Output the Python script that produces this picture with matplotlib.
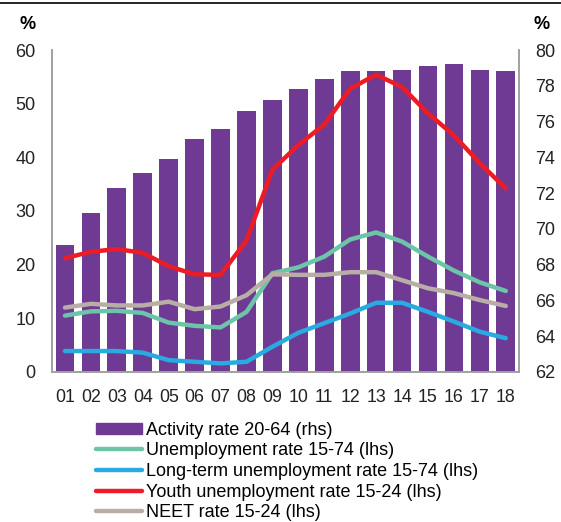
import matplotlib.pyplot as plt
from matplotlib.lines import Line2D

plt.rcParams["font.family"] = ["Liberation Sans", "DejaVu Sans"]

years = ["01", "02", "03", "04", "05", "06", "07", "08", "09",
         "10", "11", "12", "13", "14", "15", "16", "17", "18"]
activity = [69.1, 70.9, 72.3, 73.1, 73.9, 75.0, 75.6, 76.6, 77.2,
            77.8, 78.4, 78.8, 78.8, 78.9, 79.1, 79.2, 78.9, 78.8]
unemployment = [10.5, 11.3, 11.4, 11.0, 9.2, 8.6, 8.3, 11.2, 18.4,
                19.5, 21.5, 24.7, 26.0, 24.3, 21.5, 18.9, 16.7, 15.1]
long_term = [3.9, 3.9, 3.9, 3.6, 2.2, 1.9, 1.6, 1.9, 4.7,
             7.3, 9.1, 10.9, 12.9, 12.9, 11.2, 9.4, 7.5, 6.3]
youth = [21.2, 22.4, 22.9, 22.2, 19.7, 18.2, 18.1, 24.5, 37.7,
         42.3, 46.1, 52.8, 55.4, 53.1, 48.2, 44.1, 38.9, 34.2]
neet = [12.0, 12.7, 12.4, 12.4, 13.1, 11.7, 12.2, 14.3, 18.2,
        18.1, 18.1, 18.6, 18.6, 17.1, 15.6, 14.7, 13.4, 12.3]

purple = "#6E3A93"
green = "#6CC5A8"
blue = "#29ABE2"
red = "#ED1C24"
grey = "#B9AEA5"
axis_grey = "#A0A0A0"

fig = plt.figure(figsize=(5.61, 5.22), dpi=100)
ax = fig.add_axes([0.0927, 0.2874, 0.832, 0.6168])
ax2 = ax.twinx()

x = range(len(years))

# bars on the right axis, lines on the left axis drawn on top
ax2.bar(x, activity, width=0.72, color=purple, zorder=1)
ax2.set_ylim(62, 80)
ax2.set_yticks(range(62, 81, 2))

ax.set_zorder(ax2.get_zorder() + 1)
ax.patch.set_visible(False)

lw = 3.2
ax.plot(x, unemployment, color=green, lw=lw, solid_capstyle="round", solid_joinstyle="round")
ax.plot(x, long_term, color=blue, lw=lw, solid_capstyle="round", solid_joinstyle="round")
ax.plot(x, youth, color=red, lw=lw, solid_capstyle="round", solid_joinstyle="round")
ax.plot(x, neet, color=grey, lw=lw, solid_capstyle="round", solid_joinstyle="round")

ax.set_ylim(0, 60)
ax.set_yticks(range(0, 61, 10))
ax.set_xlim(-0.5, len(years) - 0.5)
ax.set_xticks(list(x))
ax.set_xticklabels(years)

for a in (ax, ax2):
    a.spines["top"].set_visible(False)
    for s in ("left", "right", "bottom"):
        a.spines[s].set_color(axis_grey)
        a.spines[s].set_linewidth(1.2)
    a.tick_params(length=0, labelsize=13, colors="#222222")
ax.tick_params(axis="y", pad=12)
ax2.tick_params(axis="y", pad=12)
ax.tick_params(axis="x", pad=12, labelsize=12.8)

fig.text(0.05, 0.953, "%", fontsize=13, fontweight="bold", ha="center", va="center")
fig.text(0.966, 0.953, "%", fontsize=13, fontweight="bold", ha="center", va="center")
fig.add_artist(Line2D([0, 1], [0.994, 0.994], color="black", lw=1.2))

handles = [
    plt.Rectangle((0, 0), 1, 1, color=purple),
    Line2D([], [], color=green, lw=lw, solid_capstyle="round"),
    Line2D([], [], color=blue, lw=lw, solid_capstyle="round"),
    Line2D([], [], color=red, lw=lw, solid_capstyle="round"),
    Line2D([], [], color=grey, lw=lw, solid_capstyle="round"),
]
labels = [
    "Activity rate 20-64 (rhs)",
    "Unemployment rate 15-74 (lhs)",
    "Long-term unemployment rate 15-74 (lhs)",
    "Youth unemployment rate 15-24 (lhs)",
    "NEET rate 15-24 (lhs)",
]
fig.legend(handles, labels, loc="upper left", bbox_to_anchor=(0.171, 0.192),
           frameon=False, fontsize=13, handlelength=2.53, handleheight=0.55,
           handletextpad=0.22, labelspacing=0.2, borderpad=0, borderaxespad=0)

fig.savefig("out.png", dpi=100)
